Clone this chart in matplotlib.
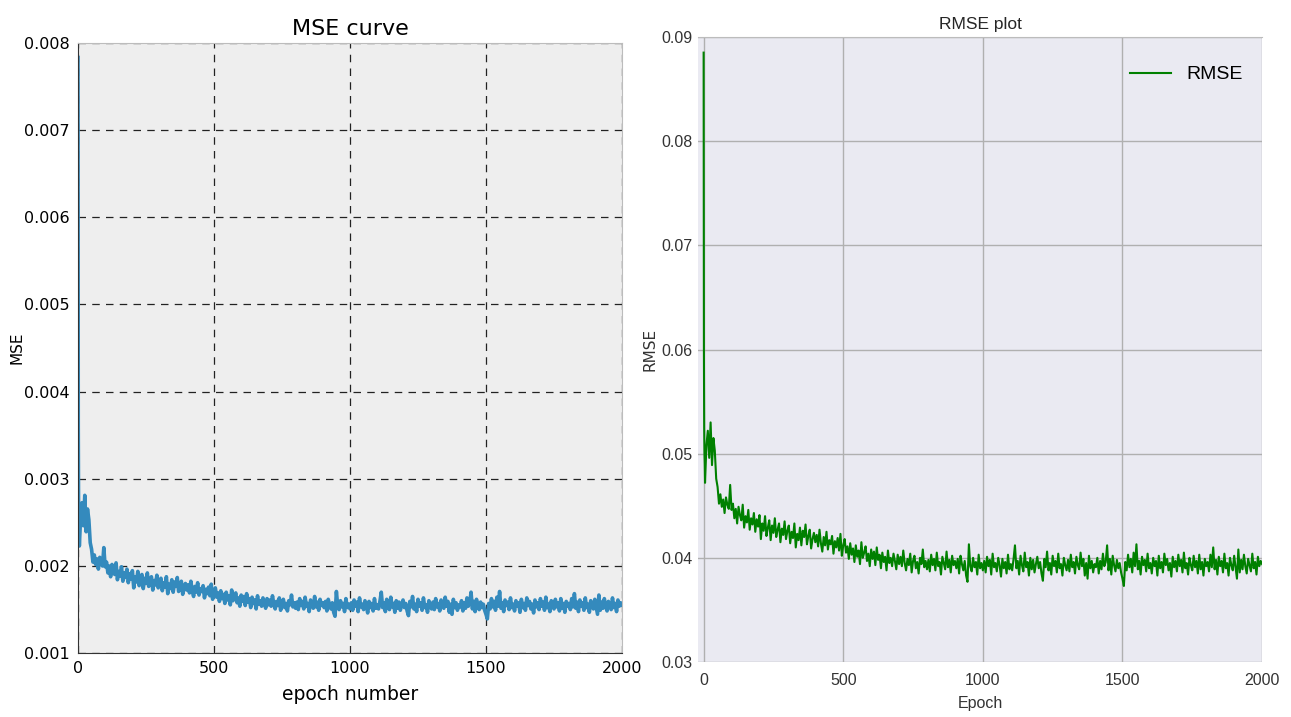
import numpy as np
import matplotlib
matplotlib.use("Agg")
import matplotlib.pyplot as plt

# RMSE: epochs 0-4, then every 5 epochs up to 2000
rmse_head = [0.0885, 0.0600, 0.0525, 0.0500, 0.0490]
rmse_body = [
    # 5..100
    0.0472, 0.0508, 0.0522, 0.0496, 0.0530, 0.0489, 0.0515, 0.0503, 0.0476, 0.0468,
    0.0452, 0.0461, 0.0449, 0.0456, 0.0443, 0.0458, 0.0451, 0.0447, 0.0470, 0.0446,
    # 105..200
    0.0452, 0.0438, 0.0447, 0.0433, 0.0449, 0.0441, 0.0436, 0.0451, 0.0429, 0.0440,
    0.0434, 0.0446, 0.0427, 0.0438, 0.0432, 0.0443, 0.0425, 0.0437, 0.0430, 0.0441,
    # 205..300
    0.0418, 0.0433, 0.0426, 0.0440, 0.0421, 0.0429, 0.0436, 0.0417, 0.0431, 0.0424,
    0.0438, 0.0420, 0.0427, 0.0433, 0.0415, 0.0428, 0.0422, 0.0435, 0.0418, 0.0426,
    # 305..400
    0.0431, 0.0414, 0.0425, 0.0419, 0.0433, 0.0410, 0.0423, 0.0417, 0.0429, 0.0412,
    0.0426, 0.0420, 0.0432, 0.0413, 0.0421, 0.0427, 0.0409, 0.0418, 0.0424, 0.0415,
    # 405..500
    0.0422, 0.0411, 0.0427, 0.0414, 0.0406, 0.0420, 0.0412, 0.0425, 0.0408, 0.0417,
    0.0413, 0.0421, 0.0404, 0.0416, 0.0410, 0.0419, 0.0407, 0.0423, 0.0402, 0.0412,
    # 505..600
    0.0418, 0.0405, 0.0411, 0.0399, 0.0414, 0.0403, 0.0409, 0.0396, 0.0412, 0.0401,
    0.0407, 0.0394, 0.0415, 0.0400, 0.0405, 0.0411, 0.0397, 0.0404, 0.0392, 0.0408,
    # 605..700
    0.0399, 0.0406, 0.0393, 0.0410, 0.0398, 0.0403, 0.0390, 0.0405, 0.0396, 0.0401,
    0.0388, 0.0407, 0.0395, 0.0400, 0.0392, 0.0404, 0.0397, 0.0389, 0.0403, 0.0394,
    # 705..800
    0.0401, 0.0392, 0.0407, 0.0395, 0.0388, 0.0399, 0.0393, 0.0404, 0.0386, 0.0397,
    0.0402, 0.0390, 0.0396, 0.0385, 0.0400, 0.0394, 0.0408, 0.0391, 0.0397, 0.0389,
    # 805..900
    0.0398, 0.0387, 0.0403, 0.0393, 0.0399, 0.0388, 0.0405, 0.0392, 0.0396, 0.0384,
    0.0401, 0.0395, 0.0389, 0.0406, 0.0391, 0.0398, 0.0386, 0.0402, 0.0393, 0.0397,
    # 905..1000
    0.0390, 0.0399, 0.0385, 0.0402, 0.0394, 0.0388, 0.0397, 0.0383, 0.0377, 0.0413,
    0.0392, 0.0387, 0.0400, 0.0391, 0.0396, 0.0384, 0.0403, 0.0390, 0.0395, 0.0388,
    # 1005..1100
    0.0397, 0.0386, 0.0401, 0.0392, 0.0398, 0.0384, 0.0404, 0.0391, 0.0395, 0.0387,
    0.0400, 0.0393, 0.0382, 0.0399, 0.0390, 0.0396, 0.0385, 0.0403, 0.0389, 0.0394,
    # 1105..1200
    0.0388, 0.0399, 0.0412, 0.0390, 0.0397, 0.0384, 0.0402, 0.0393, 0.0387, 0.0405,
    0.0391, 0.0396, 0.0383, 0.0400, 0.0389, 0.0398, 0.0386, 0.0394, 0.0401, 0.0390,
    # 1205..1300
    0.0396, 0.0385, 0.0378, 0.0399, 0.0391, 0.0406, 0.0388, 0.0395, 0.0384, 0.0402,
    0.0392, 0.0397, 0.0386, 0.0404, 0.0390, 0.0394, 0.0383, 0.0400, 0.0393, 0.0388,
    # 1305..1400
    0.0398, 0.0387, 0.0403, 0.0391, 0.0396, 0.0385, 0.0401, 0.0393, 0.0389, 0.0405,
    0.0392, 0.0399, 0.0383, 0.0395, 0.0380, 0.0402, 0.0390, 0.0397, 0.0386, 0.0394,
    # 1405..1500
    0.0391, 0.0400, 0.0385, 0.0397, 0.0389, 0.0404, 0.0392, 0.0396, 0.0412, 0.0388,
    0.0399, 0.0384, 0.0402, 0.0393, 0.0387, 0.0398, 0.0390, 0.0395, 0.0386, 0.0380,
    # 1505..1600
    0.0373, 0.0396, 0.0388, 0.0403, 0.0391, 0.0399, 0.0386, 0.0405, 0.0392, 0.0413,
    0.0389, 0.0397, 0.0384, 0.0401, 0.0393, 0.0398, 0.0387, 0.0404, 0.0390, 0.0395,
    # 1605..1700
    0.0385, 0.0400, 0.0392, 0.0397, 0.0383, 0.0402, 0.0390, 0.0396, 0.0386, 0.0404,
    0.0393, 0.0399, 0.0388, 0.0395, 0.0382, 0.0401, 0.0391, 0.0397, 0.0387, 0.0403,
    # 1705..1800
    0.0392, 0.0398, 0.0386, 0.0405, 0.0390, 0.0395, 0.0384, 0.0400, 0.0393, 0.0388,
    0.0402, 0.0391, 0.0397, 0.0385, 0.0403, 0.0389, 0.0396, 0.0383, 0.0399, 0.0392,
    # 1805..1900
    0.0396, 0.0387, 0.0403, 0.0391, 0.0410, 0.0389, 0.0398, 0.0384, 0.0401, 0.0392,
    0.0397, 0.0386, 0.0404, 0.0390, 0.0395, 0.0383, 0.0400, 0.0393, 0.0388, 0.0402,
    # 1905..2000
    0.0391, 0.0380, 0.0408, 0.0386, 0.0398, 0.0389, 0.0403, 0.0392, 0.0385, 0.0399,
    0.0393, 0.0387, 0.0404, 0.0390, 0.0396, 0.0384, 0.0401, 0.0392, 0.0397, 0.0394,
]

rmse = np.array(rmse_head + rmse_body)
epochs = np.concatenate([np.arange(0, 5), np.arange(5, 2001, 5)])
mse = rmse ** 2  # left panel is the same run, squared

mse_ticks = [0.001, 0.002, 0.003, 0.004, 0.005, 0.006, 0.007, 0.008]
rmse_ticks = [0.03, 0.04, 0.05, 0.06, 0.07, 0.08, 0.09]
epoch_ticks = [0, 500, 1000, 1500, 2000]

plt.rcParams['font.family'] = ['DejaVu Sans']
arial = ['Liberation Sans', 'DejaVu Sans']

fig = plt.figure(figsize=(12.91, 7.17), dpi=100)

# ---- left: MSE curve
ax1 = fig.add_axes([0.0604, 0.0893, 0.4214, 0.8507])
ax1.set_facecolor('#eeeeee')
ax1.plot(epochs, mse, color='#348ABD', lw=2.6)
ax1.set_xlim(0, 2000)
ax1.set_ylim(0.001, 0.008)
ax1.set_xticks(epoch_ticks)
ax1.set_yticks(mse_ticks)
ax1.set_yticklabels(['%.3f' % t for t in mse_ticks])
ax1.grid(True, color='#222222', linestyle=(0, (6, 5)), lw=0.9)
ax1.set_axisbelow(True)
for s in ['top', 'right']:
    ax1.spines[s].set_color('#bcbcbc')
for s in ['left', 'bottom']:
    ax1.spines[s].set_color('#333333')
ax1.tick_params(labelsize=11.5, length=0, pad=6)
ax1.set_title('MSE curve', fontsize=16, pad=6)
ax1.set_xlabel('epoch number', fontsize=13.5, labelpad=6)
ax1.set_ylabel('MSE', fontsize=11)
ax1.yaxis.set_label_coords(-0.099, 0.5)

# ---- right: RMSE plot
ax2 = fig.add_axes([0.5407, 0.0767, 0.4369, 0.8717])
ax2.set_facecolor('#eaeaf2')
ax2.plot(epochs, rmse, color='green', lw=1.5, label='RMSE')
ax2.set_xlim(-20, 2000)
ax2.set_ylim(0.03, 0.09)
ax2.set_xticks(epoch_ticks)
ax2.set_yticks(rmse_ticks)
ax2.set_yticklabels(['%.2f' % t for t in rmse_ticks], family=arial)
ax2.set_xticklabels([str(t) for t in epoch_ticks], family=arial)
ax2.grid(True, color='#b0b0b0', lw=1.0)
ax2.set_axisbelow(True)
for s in ax2.spines.values():
    s.set_visible(False)
ax2.spines['top'].set_visible(True)
ax2.spines['top'].set_color('#bcbcbc')
ax2.tick_params(axis='y', labelsize=11.5, length=0, pad=4, colors='#333333')
ax2.tick_params(axis='x', labelsize=11.5, length=0, pad=8, colors='#333333')
ax2.set_title('RMSE plot', fontsize=12.5, pad=6, color='#262626', family=arial)
ax2.set_xlabel('Epoch', fontsize=11.5, color='#333333', family=arial, labelpad=6)
ax2.set_ylabel('RMSE', fontsize=11, color='#333333')
ax2.yaxis.set_label_coords(-0.071, 0.5)
ax2.legend(loc='upper right', frameon=False, handlelength=2.1,
           bbox_to_anchor=(1.0, 0.985), borderaxespad=0.6,
           prop={'family': arial, 'size': 14})

fig.savefig('out.png', dpi=100)
